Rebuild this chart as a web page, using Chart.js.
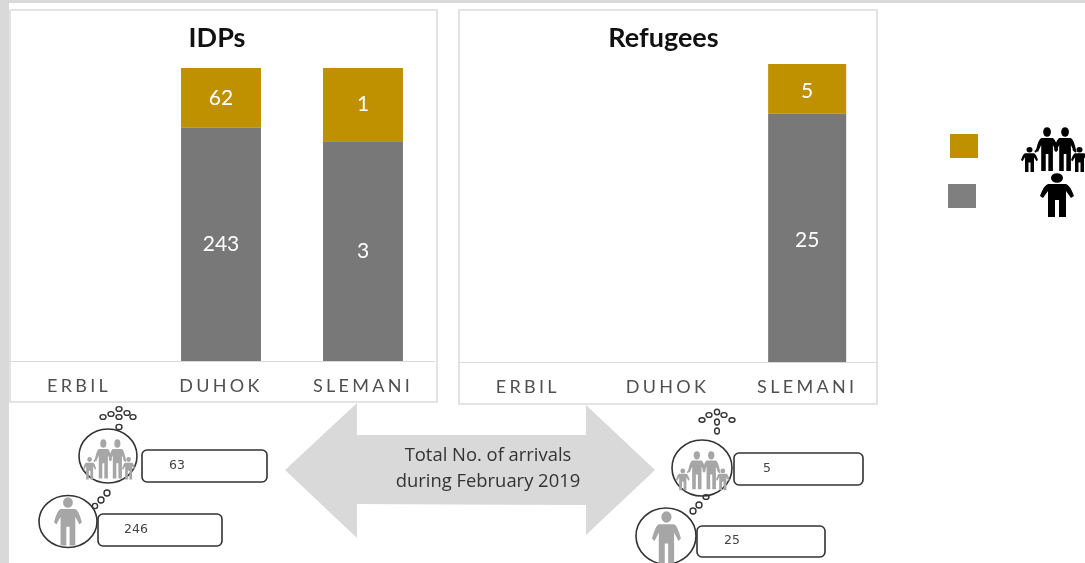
<!DOCTYPE html>
<html>
<head>
<meta charset="utf-8">
<script src="https://cdn.jsdelivr.net/npm/chart.js@4"></script>
<style>
html,body{margin:0;padding:0;background:#fff;width:1085px;height:563px;overflow:hidden;font-family:Lato,sans-serif}
#stage{position:relative;width:1085px;height:563px;overflow:hidden}
.strip{position:absolute;background:#d9d9d9}
.panel{position:absolute;border:2px solid #e3e3e3;box-sizing:border-box;background:#fff}
canvas{position:absolute}
svg{position:absolute;left:0;top:0}
</style>
</head>
<body>
<div id="stage">
  <div class="strip" style="left:0;top:0;width:1085px;height:3px"></div>
  <div class="strip" style="left:0;top:0;width:9px;height:563px"></div>
  <div class="panel" style="left:9px;top:9px;width:429px;height:394px"></div>
  <div class="panel" style="left:458px;top:9px;width:420px;height:396px"></div>
  <canvas id="idp" style="left:0;top:0"></canvas>
  <canvas id="ref" style="left:450px;top:0"></canvas>
  <svg id="deco" width="1085" height="563" xmlns="http://www.w3.org/2000/svg">
    <defs>
      <g id="man">
        <ellipse cx="17" cy="5" rx="6" ry="4.8"/>
        <path d="M8 11H26Q30 12 34 23L31 25L26 18V44H19V27H15V44H8V18L3 25L0 23Q4 12 8 11Z"/>
      </g>
      <g id="family">
        <use href="#man" transform="translate(0,20) scale(.5,.57)"/>
        <use href="#man" transform="translate(15,0) scale(.65,1)"/>
        <use href="#man" transform="translate(33,0) scale(.65,1)"/>
        <use href="#man" transform="translate(50,20) scale(.5,.57)"/>
        <path d="M14 25L17 22M52 22L55 25" stroke="currentColor" stroke-width="2" fill="none"/>
      </g>
    </defs>
    <!-- double arrow -->
    <polygon points="285,470 357,403 357,435 586,435 586,405 655,470 586,535 586,505 357,504 357,538" fill="#d9d9d9"/>
    <text x="488" y="461" text-anchor="middle" font-family="Open Sans" font-size="18.4" fill="#333" id="arrowA"></text>
    <text x="488" y="487" text-anchor="middle" font-family="Open Sans" font-size="18.4" fill="#333" id="arrowB"></text>

    <!-- legend -->
    <rect x="950" y="134" width="28" height="24" fill="#BF9000"/>
    <rect x="948" y="184" width="28" height="24" fill="#7F7F7F"/>
    <use href="#family" transform="translate(1021,127)" fill="#000" color="#000"/>
    <use href="#man" transform="translate(1040,173)" fill="#000"/>

    <!-- IDP callouts -->
    <g fill="none" stroke="#333" stroke-width="1.6">
      <ellipse cx="108" cy="456" rx="29" ry="27"/>
      <ellipse cx="68" cy="521.5" rx="29" ry="26"/>
      <ellipse cx="702" cy="468" rx="30" ry="28"/>
      <ellipse cx="666" cy="536" rx="30" ry="28"/>
      <rect x="142" y="450" width="125" height="32" rx="5"/>
      <rect x="98" y="514" width="124" height="32" rx="5"/>
      <rect x="734" y="453" width="129" height="32" rx="5"/>
      <rect x="697" y="526" width="128" height="31" rx="5"/>
      <g stroke-width="1.4">
        <ellipse cx="103" cy="417" rx="3" ry="2.4"/><ellipse cx="111" cy="414" rx="3" ry="2.4"/>
        <ellipse cx="119" cy="409" rx="3" ry="2.4"/><ellipse cx="127" cy="413" rx="3" ry="2.4"/>
        <ellipse cx="133" cy="417" rx="3" ry="2.4"/><ellipse cx="119" cy="417" rx="3" ry="2.4"/>
        <ellipse cx="119" cy="427" rx="3" ry="2.6"/>
        <circle cx="107" cy="493" r="3"/><circle cx="101" cy="500" r="3"/><circle cx="95" cy="506" r="2.6"/>
        <ellipse cx="702" cy="420" rx="3" ry="2.2"/><ellipse cx="709" cy="415" rx="3" ry="2.4"/>
        <ellipse cx="717" cy="412" rx="2.6" ry="2.8"/><ellipse cx="724" cy="415" rx="3" ry="2.4"/>
        <ellipse cx="732" cy="420" rx="3" ry="2.2"/><ellipse cx="717" cy="422" rx="2.4" ry="3"/>
        <ellipse cx="717" cy="431" rx="2.4" ry="3"/>
        <ellipse cx="706" cy="497" rx="3" ry="2.4"/><circle cx="699" cy="505" r="3"/><circle cx="693" cy="511" r="3"/>
      </g>
    </g>
    <use href="#family" transform="translate(83,439) scale(.78,.9)" fill="#a6a6a6" color="#a6a6a6"/>
    <use href="#man" transform="translate(54,497) scale(.82,1.1)" fill="#a6a6a6"/>
    <use href="#family" transform="translate(676,451) scale(.8,.87)" fill="#a6a6a6" color="#a6a6a6"/>
    <use href="#man" transform="translate(652,511) scale(.85,1.2)" fill="#a6a6a6"/>
    <g font-family="DejaVu Sans" font-size="12.5" fill="#444" text-anchor="middle" id="counts"></g>
  </svg>
</div>
<script>
const categories = ['ERBIL', 'DUHOK', 'SLEMANI'];
const idpFamilies = [null, 62, 1];
const idpIndividuals = [null, 243, 3];
const refugeeFamilies = [null, null, 5];
const refugeeIndividuals = [null, null, 25];
const idpTotals = ['63', '246'];
const refugeeTotals = ['5', '25'];
const arrowLines = ['Total No. of arrivals', 'during February 2019'];
const GOLD = '#BF9000', GREY = '#787878';

document.getElementById('arrowA').textContent = arrowLines[0];
document.getElementById('arrowB').textContent = arrowLines[1];
const countSpots = [[177, 469, idpTotals[0]], [136, 533, idpTotals[1]], [767, 472, refugeeTotals[0]], [732, 544, refugeeTotals[1]]];
const countsG = document.getElementById('counts');
countSpots.forEach(([x, y, s]) => {
  const t = document.createElementNS('http://www.w3.org/2000/svg', 'text');
  t.setAttribute('x', x); t.setAttribute('y', y); t.textContent = s; countsG.appendChild(t);
});

// 100% stacked: each bar is drawn as its share of the category's total.
function share(part, other) {
  return part.map((v, i) => v === null ? null : 100 * v / (v + other[i]));
}

const barLabels = {
  id: 'barLabels',
  afterDatasetsDraw(chart, args, opts) {
    const ctx = chart.ctx;
    ctx.save();
    ctx.letterSpacing = '0px';
    ctx.font = '21px Lato';
    ctx.fillStyle = '#fff';
    ctx.textAlign = 'center';
    ctx.textBaseline = 'middle';
    chart.data.datasets.forEach((ds, di) => {
      chart.getDatasetMeta(di).data.forEach((el, i) => {
        if (ds.counts[i] === null) return;
        const c = el.getCenterPoint();
        ctx.fillText(String(ds.counts[i]), c.x, c.y + ds.labelDy);
      });
    });
    ctx.restore();
    ctx.letterSpacing = '3.3px';   // applies to the tick labels, drawn next
  },
  afterDraw(chart) { chart.ctx.letterSpacing = '0px'; }
};
const titleShift = {
  id: 'titleShift',
  afterLayout(chart) { chart.titleBlock.left -= 8; }
};

function makeChart(id, w, h, title, fam, ind, pad, axisH, titlePad, pct, labelDy) {
  const cv = document.getElementById(id);
  cv.width = w; cv.height = h;
  cv.style.width = w + 'px'; cv.style.height = h + 'px';
  return new Chart(cv, {
    type: 'bar',
    data: {
      labels: categories,
      datasets: [
        { label: 'Individuals', data: share(ind, fam), counts: ind, labelDy, backgroundColor: GREY, borderWidth: 0 },
        { label: 'Families', data: share(fam, ind), counts: fam, labelDy, backgroundColor: GOLD, borderWidth: 0 }
      ]
    },
    plugins: [barLabels, titleShift],
    options: {
      responsive: false,
      animation: false,
      devicePixelRatio: 1,
      layout: { padding: pad },
      datasets: { bar: { categoryPercentage: 1, barPercentage: pct } },
      plugins: {
        legend: { display: false },
        tooltip: { enabled: false },
        title: {
          display: true, text: title, color: '#111',
          font: { family: 'Lato', size: 27, weight: 'bold', lineHeight: 1.2 },
          padding: titlePad
        }
      },
      scales: {
        x: {
          stacked: true,
          afterFit(s) { s.height = axisH; },
          grid: { display: false, drawTicks: false },
          border: { color: '#d9d9d9', width: 1 },
          ticks: { z: 1, color: '#505050', padding: 14, maxRotation: 0, autoSkip: false,
                   font: { family: 'Lato', size: 18 } }
        },
        y: { stacked: true, display: false, min: 0, max: 100 }
      }
    }
  });
}

makeChart('idp', 445, 405, 'IDPs', idpFamilies, idpIndividuals,
  { left: 8, right: 11, top: 0, bottom: 0 }, 44, { top: 22, bottom: 13.6 }, 0.563, 0);
makeChart('ref', 440, 408, 'Refugees', refugeeFamilies, refugeeIndividuals,
  { left: 8, right: 13, top: 0, bottom: 0 }, 46, { top: 21.6, bottom: 10 }, 0.559, 2);
</script>
</body>
</html>
